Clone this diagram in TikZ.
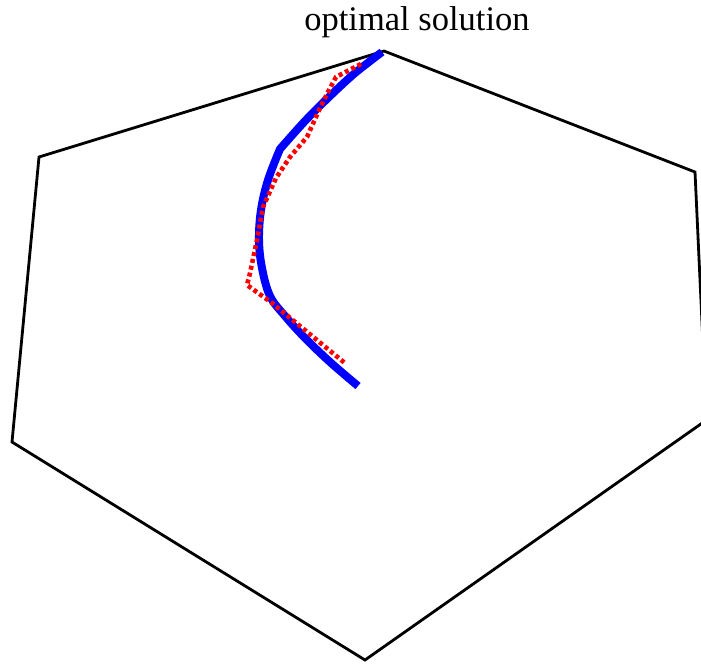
\documentclass[tikz,border=0pt]{standalone}
\usepackage{fontspec}
\setmainfont{Liberation Serif}
\begin{document}
\begin{tikzpicture}[x=1pt,y=-1pt,
  hexline/.style={black,line width=2.8pt,line join=miter},
  optpath/.style={blue,line width=8pt,line join=round},
  approxpath/.style={red,line width=4.6pt,dash pattern=on 4pt off 3pt,line join=miter},
  labeltext/.style={font=\fontsize{34.5}{40}\selectfont,inner sep=0pt}]
\useasboundingbox (0,0) rectangle (701,665);
\begin{scope}
\clip (0,0) rectangle (701,665);
\coordinate (v1) at (384,51);
\coordinate (v2) at (695,172);
\coordinate (v3) at (706.5,420);
\coordinate (v4) at (365,660);
\coordinate (v5) at (12,442);
\coordinate (v6) at (39,157);
\draw[hexline] (v1) -- (v2) -- (v3) -- (v4) -- (v5) -- (v6) -- cycle;
\draw[optpath] plot[smooth,tension=0.5] coordinates {(382,52) (355,73) (330,96) (305,121) (280,149)}
  -- plot[smooth,tension=0.6] coordinates {(280,149) (268,180) (261,210) (259,240) (262,268) (270,296) (285,316) (305,338) (330,362) (358,386)};
\draw[approxpath] (361,64) -- (336,77) -- (328,92) -- (320,108) -- (307,137) -- (290,157) -- (276,178) -- (263,207) -- (257,240) -- (250,273) -- (247,285) -- (272,303) -- (346,364);
\end{scope}
\node[labeltext,anchor=base] (lbl) at (417,30) {optimal solution};
\end{tikzpicture}
\end{document}
